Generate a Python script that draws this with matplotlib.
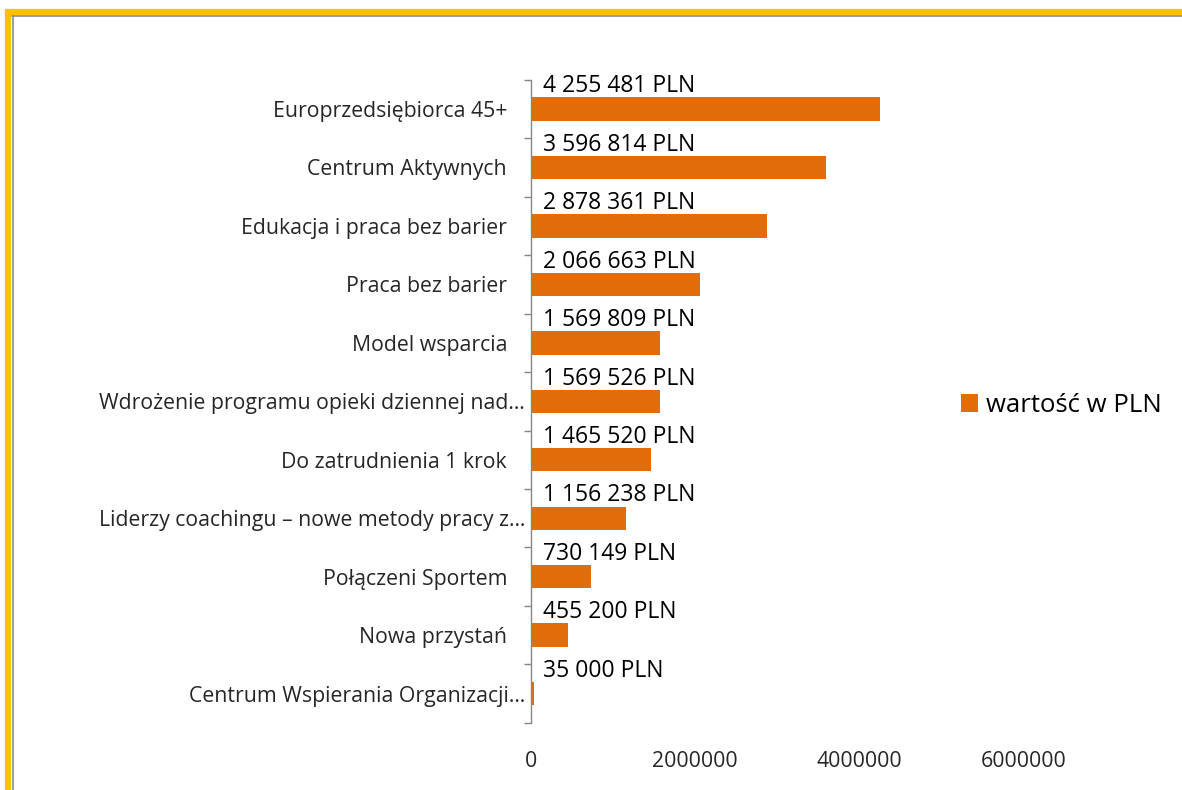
import numpy as np
import matplotlib
matplotlib.use("Agg")
import matplotlib.pyplot as plt
import matplotlib.transforms as mtransforms
from matplotlib.lines import Line2D
from matplotlib.ticker import FixedLocator

plt.rcParams['font.family'] = ['Open Sans', 'DejaVu Sans']

# ---------- dane ----------
projects = [
    "Europrzedsiębiorca 45+",
    "Centrum Aktywnych",
    "Edukacja i praca bez barier",
    "Praca bez barier",
    "Model wsparcia",
    "Wdrożenie programu opieki dziennej nad…",
    "Do zatrudnienia 1 krok",
    "Liderzy coachingu – nowe metody pracy z…",
    "Połączeni Sportem",
    "Nowa przystań",
    "Centrum Wspierania Organizacji…",
]
values = [4255481, 3596814, 2878361, 2066663, 1569809, 1569526,
          1465520, 1156238, 730149, 455200, 35000]
xticks = [0, 2000000, 4000000, 6000000]
series_name = "wartość w PLN"

bar_color = "#E36C0A"
text_gray = "#262626"

fig = plt.figure(figsize=(11.82, 7.90), dpi=100)
ax = fig.add_axes([0.449, 0.085, 0.417, 0.814])

y = np.arange(len(projects))
ax.barh(y, values, height=0.4, color=bar_color, label=series_name)
ax.set_ylim(len(projects) - 0.5, -0.5)
ax.set_xlim(0, 6000000)

# etykiety danych nad słupkami
for yi, v in zip(y, values):
    txt = f"{v:,}".replace(",", " ") + " PLN"
    ax.text(150000, yi - 0.39, txt, ha="left", va="center",
            fontsize=16.5, color="black")

ax.set_yticks(y)
ax.set_yticklabels(projects, fontsize=15.3, color=text_gray)
ax.yaxis.set_minor_locator(FixedLocator(np.arange(-0.5, len(projects), 1)))
ax.tick_params(axis="y", which="major", length=0, pad=17)
ax.tick_params(axis="y", which="minor", length=5, color="#868686", width=1)

# skrócone etykiety (z wielokropkiem) sięgają bliżej osi
shift = mtransforms.ScaledTranslation(18 / 100, 0, fig.dpi_scale_trans)
for lab in ax.get_yticklabels():
    if lab.get_text().endswith("…"):
        lab.set_transform(lab.get_transform() + shift)

ax.set_xticks(xticks)
ax.set_xticklabels([str(t) for t in xticks], fontsize=15.3, color=text_gray)
ax.tick_params(axis="x", length=0, pad=20)

for s in ["top", "right", "bottom"]:
    ax.spines[s].set_visible(False)
ax.spines["left"].set_color("#868686")
ax.spines["left"].set_linewidth(1)

leg = fig.legend(loc="center left", bbox_to_anchor=(0.813, 0.487),
                 frameon=False, fontsize=18.5, handlelength=0.68,
                 handleheight=0.68, handletextpad=0.3, borderpad=0,
                 borderaxespad=0)

# ramka (złota) u góry i po lewej
fig.add_artist(Line2D([8 / 1182, 8 / 1182], [0, 1 - 9 / 790],
                      color="#FFC000", lw=4.5, solid_capstyle="butt"))
fig.add_artist(Line2D([5 / 1182, 1], [1 - 12 / 790, 1 - 12 / 790],
                      color="#FFC000", lw=4.5, solid_capstyle="butt"))
fig.add_artist(Line2D([12.5 / 1182, 12.5 / 1182], [0, 1 - 15.5 / 790],
                      color="#8C8C8C", lw=1.2))
fig.add_artist(Line2D([12 / 1182, 1], [1 - 15.5 / 790, 1 - 15.5 / 790],
                      color="#8C8C8C", lw=1.2))

fig.savefig("out.png", dpi=100)
